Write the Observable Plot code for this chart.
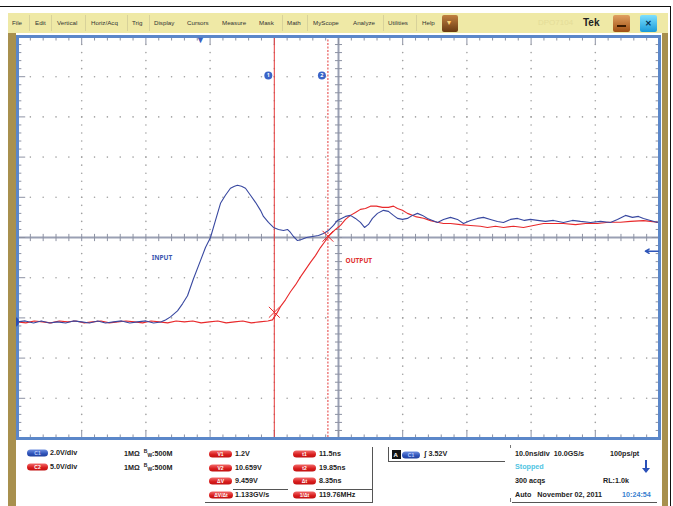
<!DOCTYPE html>
<html><head><meta charset="utf-8">
<script src="https://cdn.jsdelivr.net/npm/d3@7"></script>
<script src="https://cdn.jsdelivr.net/npm/@observablehq/plot@0.6"></script>
<style>
body{margin:0;background:#fff;}
#wrap{position:relative;width:673px;height:506px;overflow:hidden;font-family:"Liberation Sans",Arial,sans-serif;background:#fff;}
#wrap svg{position:absolute;left:0;top:0;}
.a{position:absolute;white-space:nowrap;line-height:1;}
.t{position:absolute;white-space:nowrap;line-height:1;transform:translateY(-50%);font-size:7.2px;font-weight:bold;color:#222;}
.m{position:absolute;white-space:nowrap;line-height:1;transform:translateY(-50%);font-size:6.2px;color:#333;}
.pill{position:absolute;border-radius:4px;color:#fff;font-size:5px;font-weight:bold;text-align:center;line-height:7px;height:7px;transform:translateY(-50%);}
.r{background:linear-gradient(#f26a6a,#d81c1c 60%,#c01010);}
.b{background:linear-gradient(#6f8fe0,#2e52b8 60%,#203f9c);color:#bcd0ff;}
</style></head><body><div id="wrap"></div>
<script>
// ---- data ----
// time axis: ns (trigger at 0 ns), 10 ns/div; vertical: volts per channel
const inputT = [-28.5,-27.3,-26,-24.8,-23.5,-22.3,-21,-19.8,-18.5,-17.3,-16,-14.8,-13.5,-12.3,-11,-9.8,-8.5,-7.3,-6.2,
  -5.45,-4.67,-3.58,-2.8,-2.02,-1.09,0,0.78,1.56,2.34,3.12,3.89,4.67,5.3,5.76,6.39,7.01,7.79,8.57,9.35,9.81,10.59,11.37,
  12.15,12.93,13.55,14.02,14.49,15.11,15.73,16.51,17.45,18.38,19.16,19.94,20.72,21.34,21.96,22.59,23.36,24.14,24.92,
  25.55,26.17,26.79,27.57,28.5,29.28,30.06,30.69,31.46,32.24,33.02,33.8,34.58,35.36,36.14,36.92,37.85,38.94,40.03,
  40.97,42.06,43.15,44.08,45.17,46.26,47.2,48.29,49.38,50.47,51.4,52.49,53.74,54.98,56.54,57.94,59.19,60.75,62.31,
  63.86,64.95,66.2,67.29,68.22,69.0,70.09,71.18];
const inputV = [0,0.05,-0.05,0.05,-0.05,0,-0.05,0.05,0,-0.05,0.05,-0.05,0,0.05,-0.05,0,0.05,-0.05,0,
  0.1,0.25,0.55,0.9,1.3,2.15,3.05,3.7,4.2,5.05,5.9,6.3,6.65,6.75,6.8,6.75,6.65,6.3,5.95,5.55,5.25,4.95,4.7,
  4.6,4.55,4.6,4.45,4.25,4.05,4.1,4.2,4.25,4.3,4.4,4.55,4.8,5.05,5.15,5.25,5.3,5.15,4.95,
  4.7,4.85,5.15,5.4,5.55,5.5,5.3,5.15,5.1,5.15,5.3,5.4,5.3,5.15,5.05,4.95,5.1,5.2,5.1,
  4.9,5.05,5.15,5.2,5.1,5.0,4.95,5.1,5.15,5.05,5.1,5.05,5.0,5.05,4.95,5.05,5.0,4.95,5.0,
  4.95,5.1,5.3,5.2,5.25,5.15,5.05,4.95];
const outputT = [-28.5,-27.2,-25.9,-24.6,-23.3,-22,-20.7,-19.4,-18.1,-16.8,-15.5,-14.2,-12.9,-11.6,-10.3,-9,-7.7,-6.4,
  -5.1,-3.8,-2.5,-1.2,0.1,1.4,2.7,4,5.3,6.6,7.9,9.2,10.5,11.21,11.84,12.46,13.24,14.02,14.8,15.58,16.36,17.13,17.91,
  18.69,19.47,20.25,21.03,21.81,22.59,23.36,24.14,24.92,25.7,26.48,27.41,28.35,29.28,30.06,30.69,31.46,32.24,33.49,
  34.74,35.83,36.92,37.85,38.94,40.5,42.06,43.61,44.7,45.95,47.2,48.75,50.31,51.87,53.43,54.98,56.54,58.41,59.97,
  61.84,63.55,65.42,66.98,69.0,70.09,71.18];
const outputV = [0,-0.12,0.12,0,-0.12,0.12,0,0.12,-0.12,0,0.12,-0.12,0,0.12,0,-0.12,0.12,0,
  -0.12,0.12,0,0.12,-0.12,0,0.12,-0.12,0,0.12,-0.12,0,0.12,0.25,1.0,1.9,2.75,3.75,4.6,5.6,6.5,7.4,8.25,
  9.25,10.1,10.9,11.5,12.0,12.75,13.25,13.6,14.0,14.1,14.4,14.4,14.25,14.25,14.4,14.1,13.9,13.5,13.1,
  12.9,12.6,12.4,12.25,12.25,12.1,12.0,11.9,11.75,11.9,11.75,11.9,11.75,12.0,12.25,12.25,12.25,12.1,12.25,
  12.25,12.4,12.4,12.5,12.6,12.5,12.4];
const voltsPerDiv = {C1: 2, C2: 5};
const groundDiv = -2.1;            // both channel grounds, in divisions
const timeDomain = [-28.5, 71.5];  // 10 divisions of 10 ns
const cursorTimes = [11.5, 19.85];
const cursorVolts = [1.2, 10.659];
const triggerLevel = 3.52;
const traceLabels = ["INPUT", "OUTPUT"];

const toDiv = (v, ch) => v / voltsPerDiv[ch] + groundDiv;
const inputData = inputT.map((t, i) => ({t, y: toDiv(inputV[i], "C1")}));
const outputData = outputT.map((t, i) => ({t, y: toDiv(outputV[i], "C2")}));

// graticule helpers
const majorX = d3.range(11).map(k => timeDomain[0] + 10 * k);
const minorX = d3.range(51).map(k => timeDomain[0] + 2 * k);
const majorY = d3.range(-5, 6);
const minorY = d3.range(51).map(k => -5 + 0.2 * k);
const centerT = timeDomain[0] + 50;
const gridDots = [];
majorX.slice(1, 10).filter(x => x !== centerT).forEach(x => minorY.forEach(y => gridDots.push({x, y})));
majorY.slice(1, 10).filter(y => y !== 0).forEach(y => minorX.forEach(x => gridDots.push({x, y})));
const tickLinks = [];
minorX.forEach((x, i) => {
  const L = i % 5 === 0 ? 0.2 : 0.1;
  tickLinks.push({x1: x, x2: x, y1: 5, y2: 5 - L});
  tickLinks.push({x1: x, x2: x, y1: -5, y2: -5 + L});
  tickLinks.push({x1: x, x2: x, y1: -0.09, y2: 0.09});
});
minorY.forEach((y, i) => {
  const L = i % 5 === 0 ? 1.2 : 0.6;
  tickLinks.push({x1: timeDomain[0], x2: timeDomain[0] + L, y1: y, y2: y});
  tickLinks.push({x1: timeDomain[1], x2: timeDomain[1] - L, y1: y, y2: y});
  tickLinks.push({x1: centerT - 0.55, x2: centerT + 0.55, y1: y, y2: y});
});

const RED = "#e8292b", BLUE = "#3848a0";
const chart = Plot.plot({
  width: 673, height: 506,
  marginLeft: 17, marginRight: 14, marginTop: 36, marginBottom: 68,
  x: {domain: timeDomain, axis: null},
  y: {domain: [-5, 5], axis: null},
  style: {background: "transparent", overflow: "visible"},
  marks: [
    Plot.dot(gridDots, {x: "x", y: "y", r: 0.8, fill: "#a0a0a0", stroke: null}),
    Plot.ruleX([centerT], {stroke: "#9aa0b3", strokeWidth: 2}),
    Plot.ruleY([0], {stroke: "#9aa0b3", strokeWidth: 2}),
    Plot.link(tickLinks, {x1: "x1", x2: "x2", y1: "y1", y2: "y2", stroke: "#8d92a3", strokeWidth: 1}),
    Plot.ruleX([cursorTimes[0]], {stroke: "#e53a3a", strokeWidth: 1}),
    Plot.ruleX([cursorTimes[1]], {stroke: "#e53a3a", strokeWidth: 1, strokeDasharray: "2,1.5"}),
    Plot.line(outputData, {x: "t", y: "y", stroke: RED, strokeWidth: 1.1}),
    Plot.line(inputData, {x: "t", y: "y", stroke: BLUE, strokeWidth: 1.1}),
    Plot.dot(cursorTimes, {x: d => d, y: (d, i) => toDiv(cursorVolts[i], "C2"), symbol: "times", r: 5, stroke: RED, strokeWidth: 1}),
    Plot.text([traceLabels[0]], {x: -7.6, y: -0.5, text: d => d, fill: "#3a55b0", fontSize: 6.5, fontWeight: "bold", textAnchor: "start"}),
    Plot.text([traceLabels[1]], {x: 22.6, y: -0.57, text: d => d, fill: "#e03030", fontSize: 6.5, fontWeight: "bold", textAnchor: "start"}),
    Plot.frame({stroke: "#5b87c9", strokeWidth: 3}),
    Plot.dot([0], {x: timeDomain[0], y: toDiv(0, "C1"), r: 5.5, fill: "#2a50b8", dx: -4}),
    Plot.text([0], {x: d => d, y: 5, text: () => "▼", fill: "#3a60c0", fontSize: 9, dy: 4}),
    Plot.arrow([triggerLevel], {x1: timeDomain[1] - 0.2, x2: timeDomain[1] - 2.2, y1: d => toDiv(d, "C1"), y2: d => toDiv(d, "C1"), stroke: "#2f55b8", strokeWidth: 1.5, headLength: 5}),
    Plot.dot(cursorTimes, {x: d => d, y: 4.03, r: 4, fill: "#3a64c8", dx: -6}),
    Plot.text(cursorTimes, {x: d => d, y: 4.03, text: (d, i) => String(i + 1), fill: "#fff", fontSize: 5.5, fontWeight: "bold", dx: -6})
  ]
});
const wrap = document.getElementById("wrap");
wrap.appendChild(chart);

function add(cls, x, y, html, style) {
  const e = document.createElement("div");
  e.className = cls; e.style.left = x + "px"; e.style.top = y + "px";
  if (style) e.style.cssText += style;
  e.innerHTML = html; wrap.appendChild(e); return e;
}
function box(x, y, w, h, style) { add("a", x, y, "", `width:${w}px;height:${h}px;` + style); }

// outer chrome
box(0, 6, 670, 1, "background:#111;");
box(670, 6, 1, 500, "background:#111;");
box(8, 13, 660, 20, "background:#efe9a6;");
box(8, 33, 8, 473, "background:#a8904e;");
box(662, 33, 6, 473, "background:#a8904e;");
box(17, 442, 645, 64, "background:#fff;");

// menu bar
const menuItems = ["File","Edit","Vertical","Horiz/Acq","Trig","Display","Cursors","Measure","Mask","Math","MyScope","Analyze","Utilities","Help"];
const menuX = [12,35,57,91,132,154,187,222,259,287,313,353,388,422];
const menuSep = [29,51,85,127,149,282,307,383,416];
menuItems.forEach((s, i) => add("m", menuX[i], 22.5, s));
menuSep.forEach(x => box(x, 15, 1, 16, "background:#d8d29a;"));
box(442, 15, 16, 17, "background:linear-gradient(#c08040,#6a3a12);border-radius:2px;");
add("m", 447, 23, "▾", "color:#ffd37a;font-size:8px;");
add("m", 538, 22.5, "DPO7104", "color:#e4dc98;font-size:8px;");
add("m", 583, 22.5, "Tek", "color:#222;font-size:10px;font-weight:bold;");
box(613, 15, 17, 17, "background:linear-gradient(#e0a060,#a05014);border-radius:2px;");
box(617, 25, 9, 2, "background:#3a1a00;");
box(640, 15, 17, 17, "background:linear-gradient(#7ee0ff,#1a9ad8);border-radius:2px;");
add("m", 645, 23.5, "✕", "color:#003050;font-size:8px;font-weight:bold;");

// channel readouts
const chNames = ["C1","C2"], chScale = ["2.0V/div","5.0V/div"], chRowY = [453, 466.5];
chNames.forEach((c, i) => {
  add("pill " + (i ? "r" : "b"), 27, chRowY[i], c, "width:21px;");
  add("t", 50, chRowY[i], chScale[i]);
  add("t", 124, chRowY[i], '1MΩ&nbsp; <span style="font-size:5px;vertical-align:3px">B</span><span style="font-size:5px;vertical-align:-1px">W</span>:500M');
});
// cursor readouts
const curLabA = ["V1","V2","ΔV","ΔV/Δt"], curValA = ["1.2V","10.659V","9.459V","1.133GV/s"];
const curLabB = ["t1","t2","Δt","1/Δt"], curValB = ["11.5ns","19.85ns","8.35ns","119.76MHz"];
const rowY = [454, 467.5, 481, 495];
rowY.forEach((y, i) => {
  add("pill r", 209, y, curLabA[i], "width:" + (i === 3 ? 24 : 23) + "px;");
  add("t", 235, y, curValA[i]);
  add("pill r", 293, y, curLabB[i], "width:23px;");
  add("t", 319, y, curValB[i]);
});
box(372, 447, 1, 56, "background:#555;");
box(233, 489, 55, 1, "background:#555;");
box(316, 489, 56, 1, "background:#555;");
box(205, 502, 167, 1, "background:#555;");
// trigger readout
box(388, 447, 1, 14, "background:#555;");
box(388, 461, 117, 1, "background:#555;");
box(392, 450, 9, 9, "background:#111;");
add("a", 393.5, 451.5, "A", "color:#fff;font-size:6px;font-weight:bold;");
add("pill b", 402, 454.5, "C1", "width:18px;");
add("t", 424, 454, "ʃ 3.52V");
// acquisition readout
add("t", 515, 454, "10.0ns/div&nbsp; 10.0GS/s");
add("t", 610, 454, "100ps/pt");
add("t", 515, 467, "Stopped", "color:#4fc4e2;");
box(644.5, 460, 2, 9, "background:#2a50b8;");
add("a", 641.5, 468, "", "width:0;height:0;border-left:4px solid transparent;border-right:4px solid transparent;border-top:5px solid #2a50b8;");
add("t", 515, 481, "300 acqs");
add("t", 603, 481, "RL:1.0k");
add("t", 515, 495, "Auto&nbsp;&nbsp; November 02, 2011");
add("t", 622, 495, "10:24:54", "color:#3a7fd0;");
box(512, 502, 145, 1, "background:#555;");
box(510, 445, 1, 3, "background:#777;");
box(510, 498, 1, 4, "background:#777;");
</script></body></html>
